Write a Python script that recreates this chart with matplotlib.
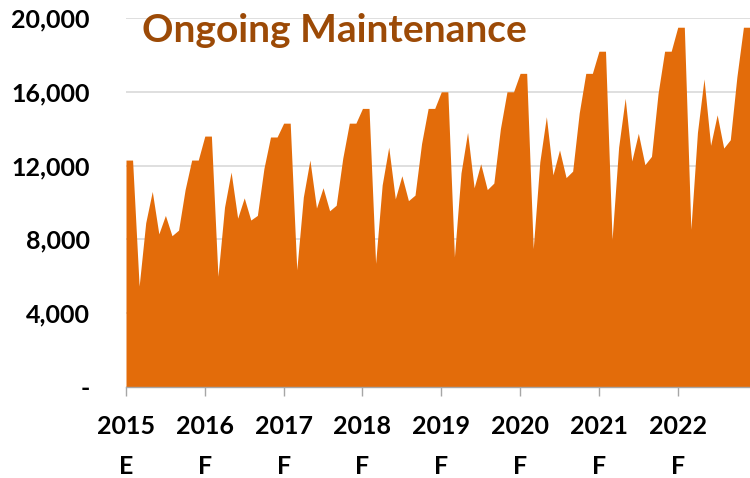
import matplotlib
matplotlib.use("Agg")
import matplotlib.pyplot as plt
import numpy as np

plt.rcParams['font.family'] = ['Lato', 'DejaVu Sans']

years = ["2015", "2016", "2017", "2018", "2019", "2020", "2021", "2022"]
year_suffix = ["E", "F", "F", "F", "F", "F", "F", "F"]
yticks = [0, 4000, 8000, 12000, 16000, 20000]

values = [
    12300, 12300, 5470, 8900, 10600, 8300, 9300, 8200, 8500, 10700, 12300, 12300,
    13600, 13600, 6000, 9750, 11650, 9150, 10250, 9050, 9300, 11850, 13550, 13550,
    14300, 14300, 6350, 10300, 12300, 9700, 10800, 9550, 9850, 12400, 14300, 14300,
    15100, 15100, 6700, 10950, 13000, 10200, 11450, 10100, 10400, 13200, 15100, 15100,
    16000, 16000, 7050, 11600, 13800, 10800, 12100, 10700, 11050, 14000, 16000, 16000,
    17000, 17000, 7500, 12200, 14650, 11500, 12850, 11350, 11700, 14850, 17000, 17000,
    18200, 18200, 8000, 13000, 15650, 12250, 13750, 12050, 12500, 15900, 18200, 18200,
    19500, 19500, 8550, 13800, 16700, 13100, 14750, 12950, 13400, 16800, 19500, 19500,
]

fig = plt.figure(figsize=(7.5, 4.78), dpi=100)
ax = fig.add_axes([126/750, 1-387/478, 1-126/750, (387-18)/478])

x = np.arange(len(values))
ax.fill_between(x, 0, values, color='#E36C0A', linewidth=0, zorder=2)

ax.set_xlim(0, len(values) - 1)
ax.set_ylim(0, 20000)
ax.set_yticks(yticks)
ax.set_yticklabels(['-' if v == 0 else f"{v:,}" for v in yticks],
                   fontsize=18, fontweight='bold')
ax.yaxis.grid(True, color='#D9D9D9', linewidth=1.2, zorder=0)
ax.set_axisbelow(True)
ax.tick_params(axis='y', length=0, pad=26)

ax.set_xticks(np.arange(len(years)) * 12)
ax.set_xticklabels([f"{y}\n{s}" for y, s in zip(years, year_suffix)],
                   fontsize=18, fontweight='bold', linespacing=1.85)
ax.tick_params(axis='x', length=6.5, width=1, color='#A6A6A6', pad=14)

for s in ['top', 'right', 'left']:
    ax.spines[s].set_visible(False)
ax.spines['bottom'].set_color('#A6A6A6')
ax.spines['bottom'].set_linewidth(1)

fig.text(142/750, 1-42/478, "Ongoing Maintenance", fontsize=28, fontweight='bold',
         color='#9C4A06', ha='left', va='baseline')

fig.savefig("out.png", dpi=100)
